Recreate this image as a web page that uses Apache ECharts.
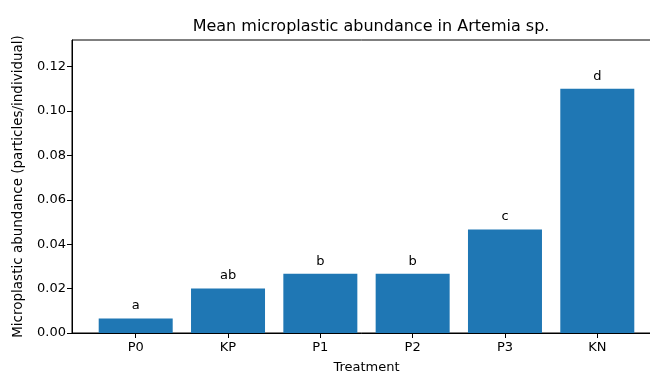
<!DOCTYPE html>
<html>
<head>
<meta charset="utf-8">
<script src="https://cdn.jsdelivr.net/npm/echarts@6/dist/echarts.min.js"></script>
<style>html,body{margin:0;padding:0;background:#fff;}#c{width:650px;height:371px;}</style>
</head>
<body>
<div id="c"></div>
<script>
const categories = ['P0', 'KP', 'P1', 'P2', 'P3', 'KN'];
const values = [0.0065, 0.0200, 0.0267, 0.0267, 0.0466, 0.1100];
const letters = ['a', 'ab', 'b', 'b', 'c', 'd'];
const yTicks = [0, 0.02, 0.04, 0.06, 0.08, 0.10, 0.12];

const positions = categories.map((c, i) => i);
const chart = echarts.init(document.getElementById('c'), null, {renderer: 'canvas'});
const font = 'DejaVu Sans';
chart.setOption({
  animation: false,
  backgroundColor: '#fff',
  title: {
    text: 'Mean microplastic abundance in Artemia sp.',
    left: 366, top: 14, textAlign: 'center',
    textStyle: {fontFamily: font, fontSize: 16, fontWeight: 'normal', color: '#000'}
  },
  grid: {left: 72, right: -11, top: 40, bottom: 38, show: true, borderColor: '#000', borderWidth: 1, backgroundColor: 'transparent', containLabel: false, outerBoundsMode: 'none'},
  xAxis: {
    type: 'value', min: -0.69, max: 5.69,
    name: 'Treatment', nameLocation: 'middle', nameGap: 28,
    nameTextStyle: {fontFamily: font, fontSize: 13, color: '#000'},
    axisLine: {show: true, onZero: false, lineStyle: {color: '#000', width: 1}},
    axisTick: {show: true, customValues: positions, length: 5, lineStyle: {color: '#000'}},
    axisLabel: {customValues: positions, formatter: v => categories[Math.round(v)], fontFamily: font, fontSize: 13, color: '#000', margin: 8},
    splitLine: {show: false}
  },
  yAxis: {
    type: 'value', min: 0, max: 0.132,
    name: 'Microplastic abundance (particles/individual)', nameLocation: 'middle', nameGap: 47,
    nameTextStyle: {fontFamily: font, fontSize: 13.5, color: '#000'},
    axisLine: {show: true, onZero: false, lineStyle: {color: '#000', width: 1}},
    axisTick: {show: true, customValues: yTicks, length: 5, lineStyle: {color: '#000'}},
    axisLabel: {customValues: yTicks, formatter: v => v.toFixed(2), fontFamily: font, fontSize: 13, color: '#000', margin: 6},
    splitLine: {show: false}
  },
  series: [{
    type: 'bar',
    data: positions.map((p, i) => [p, values[i]]),
    barWidth: 74,
    itemStyle: {color: '#1f77b4'},
    label: {
      show: true, position: 'top', distance: 6,
      formatter: p => letters[p.dataIndex],
      fontFamily: font, fontSize: 13, color: '#000'
    }
  }]
});
</script>
</body>
</html>
